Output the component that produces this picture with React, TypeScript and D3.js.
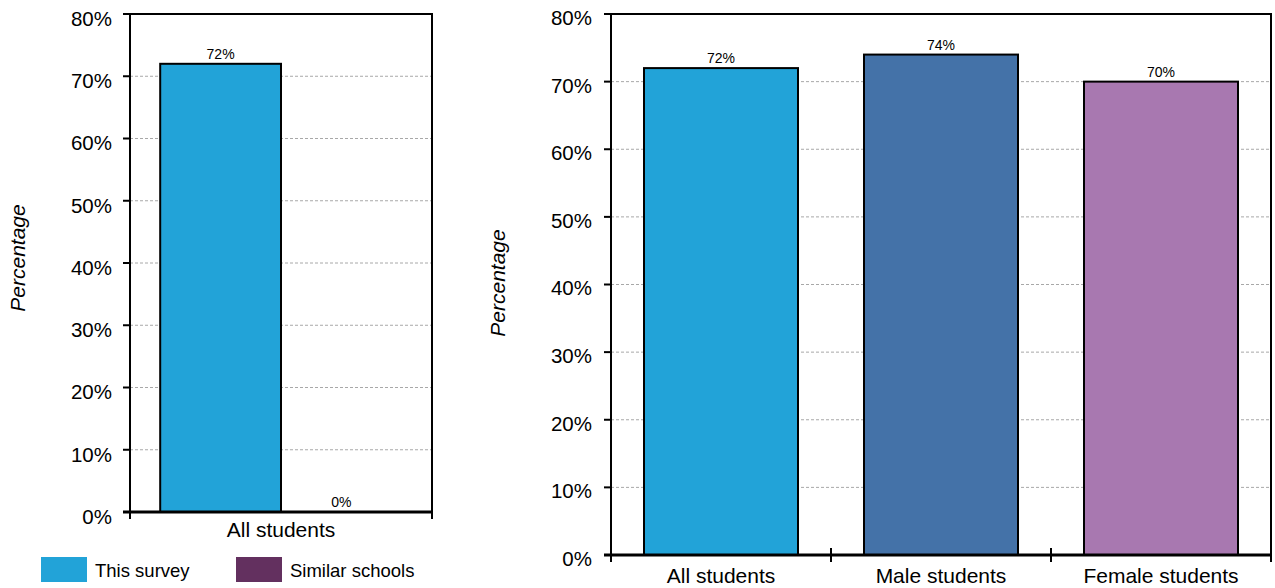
import React from "react";
import * as d3 from "d3";

// Survey results: share of students (percent)
const overallCategories = ["All students"];
const overallSeries = ["This survey", "Similar schools"];
const overallValues = [72, 0];
const seriesColors = ["#22a3d8", "#63305f"];

const groupCategories = ["All students", "Male students", "Female students"];
const groupValues = [72, 74, 70];
const groupColors = ["#22a3d8", "#4472a8", "#a878b0"];

const yTicks = [0, 10, 20, 30, 40, 50, 60, 70, 80];

const FONT = "'Liberation Sans', Arial, sans-serif";

function Grid({ x0, x1, y }: any) {
  return (
    <g>
      {yTicks.slice(1, -1).map((t) => (
        <line key={"g" + t} x1={x0} x2={x1} y1={y(t)} y2={y(t)} stroke="#a8a8a8" strokeWidth={1} strokeDasharray="3,2" />
      ))}
    </g>
  );
}

function Axes({ x0, x1, y, tickLabelX, fontSize, labelShift, xTicks }: any) {
  const [yBottom, yTop] = y.range();
  return (
    <g>
      <line x1={x0} x2={x0} y1={yTop} y2={yBottom + 7} stroke="#000" strokeWidth={2} />
      <line x1={x1} x2={x1} y1={yTop} y2={yBottom + 7} stroke="#000" strokeWidth={2} />
      <line x1={x0 - 7} x2={x1 + 1} y1={yTop} y2={yTop} stroke="#000" strokeWidth={2} />
      <line x1={x0 - 7} x2={x1 + 1} y1={yBottom} y2={yBottom} stroke="#000" strokeWidth={3} />
      {yTicks.map((t) => (
        <g key={t}>
          <line x1={x0 - 7} x2={x0} y1={y(t)} y2={y(t)} stroke="#000" strokeWidth={2} />
          <text x={tickLabelX} y={y(t) + labelShift} dy="0.36em" textAnchor="end" fontSize={fontSize} fontFamily={FONT} fill="#000">
            {t}%
          </text>
        </g>
      ))}
      {xTicks.map((xt: number) => (
        <line key={xt} x1={xt} x2={xt} y1={yBottom - 7} y2={yBottom + 7} stroke="#000" strokeWidth={2} />
      ))}
    </g>
  );
}

export default function App() {
  // Left chart: overall comparison
  const lx0 = 130, lx1 = 432;
  const ly = d3.scaleLinear().domain([0, 80]).range([512, 14]);
  const lxBand = d3.scaleBand().domain(overallCategories).range([lx0, lx1]).paddingInner(0).paddingOuter(0);
  const lxSeries = d3
    .scaleBand()
    .domain(overallSeries)
    .range([0, lxBand.bandwidth()])
    .paddingInner(0)
    .paddingOuter(0.25);

  // Right chart: by gender
  const rx0 = 611, rx1 = 1271;
  const ry = d3.scaleLinear().domain([0, 80]).range([555, 14]);
  const rxBand = d3.scaleBand().domain(groupCategories).range([rx0, rx1]).paddingInner(0.3).paddingOuter(0.15);
  const rBoundaries = groupCategories.slice(1).map((c) => (rxBand(c) as number) - rxBand.step() * 0.15);

  return (
    <div style={{ position: "absolute", left: 0, top: 0 }}>
      <svg width={1275} height={588} style={{ display: "block", background: "#fff" }}>
        {/* ---------- left chart ---------- */}
        <Grid x0={lx0} x1={lx1} y={ly} />
        {overallCategories.map((cat) =>
          overallSeries.map((s, i) => {
            const x = (lxBand(cat) as number) + (lxSeries(s) as number);
            const v = overallValues[i];
            return (
              <g key={cat + s}>
                {v > 0 && (
                  <rect x={x} y={ly(v)} width={lxSeries.bandwidth()} height={ly(0) - ly(v)} fill={seriesColors[i]} stroke="#000" strokeWidth={2} />
                )}
                <text x={x + lxSeries.bandwidth() / 2} y={ly(v) - 5} textAnchor="middle" fontSize={14} fontFamily={FONT} fill="#000">
                  {v}%
                </text>
              </g>
            );
          })
        )}
        <Axes x0={lx0} x1={lx1} y={ly} tickLabelX={112} fontSize={20.5} labelShift={4.5} xTicks={[lx0, lx1]} />
        {overallCategories.map((cat) => (
          <text key={cat} x={(lxBand(cat) as number) + lxBand.bandwidth() / 2} y={537} textAnchor="middle" fontSize={21} fontFamily={FONT} fill="#000">
            {cat}
          </text>
        ))}
        <text transform="translate(25,258) rotate(-90)" textAnchor="middle" fontSize={21} fontStyle="italic" fontFamily={FONT} fill="#000">
          Percentage
        </text>
        {/* legend */}
        {overallSeries.map((s, i) => (
          <g key={s} transform={`translate(${41 + i * 195},557)`}>
            <rect x={0} y={0} width={46} height={25} fill={seriesColors[i]} />
            <text x={54} y={20} fontSize={18.5} fontFamily={FONT} fill="#000">
              {s}
            </text>
          </g>
        ))}

        {/* ---------- right chart ---------- */}
        <Grid x0={rx0} x1={rx1} y={ry} />
        {groupCategories.map((cat, i) => {
          const x = rxBand(cat) as number;
          const v = groupValues[i];
          return (
            <g key={cat}>
              <rect x={x} y={ry(v)} width={rxBand.bandwidth()} height={ry(0) - ry(v)} fill={groupColors[i]} stroke="#000" strokeWidth={2} />
              <text x={x + rxBand.bandwidth() / 2} y={ry(v) - 5} textAnchor="middle" fontSize={14} fontFamily={FONT} fill="#000">
                {v}%
              </text>
            </g>
          );
        })}
        <Axes x0={rx0} x1={rx1} y={ry} tickLabelX={592} fontSize={20.5} labelShift={3.5} xTicks={[rx0, ...rBoundaries, rx1]} />
        {groupCategories.map((cat) => (
          <text key={cat} x={(rxBand(cat) as number) + rxBand.bandwidth() / 2} y={583} textAnchor="middle" fontSize={21} fontFamily={FONT} fill="#000">
            {cat}
          </text>
        ))}
        <text transform="translate(505,283) rotate(-90)" textAnchor="middle" fontSize={21} fontStyle="italic" fontFamily={FONT} fill="#000">
          Percentage
        </text>
      </svg>
    </div>
  );
}
